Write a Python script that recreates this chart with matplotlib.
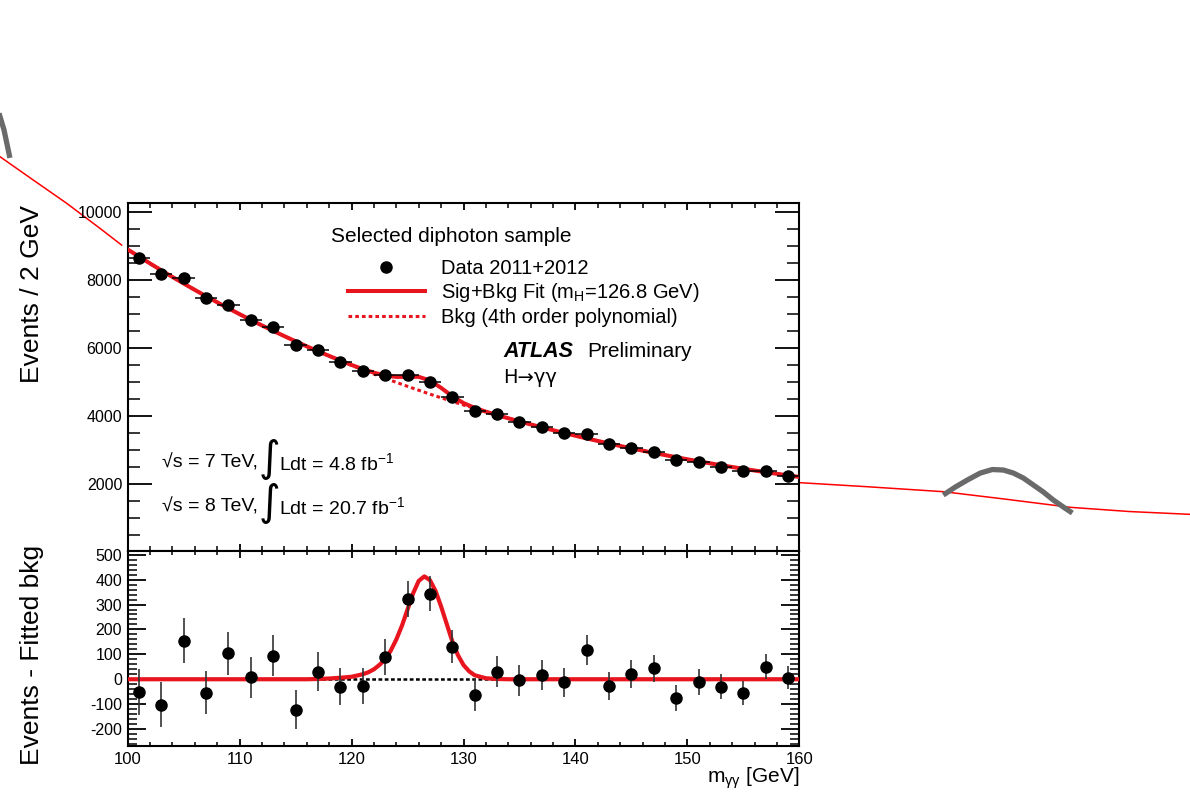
import numpy as np
import matplotlib
matplotlib.use('Agg')
import matplotlib.pyplot as plt
from matplotlib.lines import Line2D
from matplotlib.ticker import MultipleLocator

plt.rcParams['font.family'] = ['Liberation Sans', 'DejaVu Sans']
plt.rcParams['mathtext.fontset'] = 'custom'
plt.rcParams['mathtext.rm'] = 'Liberation Sans'
plt.rcParams['mathtext.it'] = 'Liberation Sans:italic'
plt.rcParams['axes.unicode_minus'] = False

# data points (bin centres, 2 GeV bins)
m_gg = np.arange(101, 160, 2)
events = [8632, 8171, 8045, 7458, 7261, 6821, 6607, 6078, 5932, 5585,
          5333, 5198, 5216, 4992, 4552, 4159, 4062, 3836, 3690, 3495,
          3466, 3173, 3055, 2947, 2712, 2653, 2515, 2389, 2389, 2251]
events_err = [93, 90, 90, 86, 85, 83, 81, 78, 77, 75,
              73, 72, 72, 71, 67, 64, 64, 62, 61, 59,
              59, 56, 55, 54, 52, 52, 50, 49, 49, 47]
resid = [-51, -103, 154, -54, 104, 8, 95, -123, 31, -30,
         -26, 91, 321, 343, 131, -63, 31, -4, 18, -12,
         118, -26, 21, 44, -74, -10, -30, -56, 51, 6]

# background fit curve, 1 GeV steps
bkg_x = np.arange(100, 161, 1)
bkg_y = [8890, 8685, 8480, 8280, 8084, 7892, 7704, 7520, 7340, 7164,
         6992, 6824, 6661, 6502, 6347, 6196, 6048, 5904, 5764, 5626,
         5492, 5362, 5235, 5112, 4991, 4874, 4759, 4647, 4538, 4431,
         4327, 4226, 4127, 4031, 3937, 3846, 3757, 3671, 3587, 3505,
         3425, 3347, 3271, 3197, 3125, 3055, 2987, 2921, 2857, 2794,
         2733, 2674, 2617, 2561, 2507, 2455, 2404, 2355, 2307, 2261, 2216]

# signal part of the fit (events above background)
sig_x = [100, 116, 117, 118, 119, 120, 121, 121.5, 122, 122.5, 123, 123.5,
         124, 124.5, 125, 125.5, 126, 126.5, 127, 127.5, 128, 128.5, 129,
         129.5, 130, 130.5, 131, 132, 133, 134, 160]
sig_y = [0, 0, 1, 3, 6, 10, 20, 28, 40, 58, 80, 115,
         160, 215, 280, 345, 395, 413, 398, 355, 292, 222, 152,
         97, 57, 32, 16, 4, 1, 0, 0]

# hand drawn extrapolation and bumps outside the frame
extrap_left_x = [88.59, 91.56, 94.55, 97.52, 99.46]
extrap_left_y = [11614, 10930, 10246, 9512, 9020]
extrap_right_x = [160.1, 166.0, 172.9, 178.5, 184.2, 189.5, 194.9]
extrap_right_y = [2046, 1930, 1782, 1560, 1324, 1200, 1118]
bump_left_x = [88.41, 88.95, 89.48]
bump_left_y = [12990, 12400, 11578]
bump_right_x = [172.86, 173.94, 175.01, 176.17, 177.24, 178.23, 179.12,
                180.01, 180.91, 181.80, 182.69, 183.59, 184.39]
bump_right_y = [1685, 1920, 2125, 2330, 2433, 2418, 2330,
                2184, 1978, 1773, 1538, 1332, 1157]

# luminosity labels
lumi_energy = ['\u221as = 7 TeV,', '\u221as = 8 TeV,']
lumi_int = [r'Ldt = 4.8 fb$^{\mathregular{-1}}$', r'Ldt = 20.7 fb$^{\mathregular{-1}}$']
lumi_y = [0.252, 0.126]

red = '#e8141e'

# sig+bkg at the integer points of the background curve
sig_int = np.zeros(len(bkg_x))
for xs, ys in zip(sig_x, sig_y):
    if float(xs).is_integer():
        sig_int[int(xs) - 100] = ys
sigbkg_y = np.array(bkg_y) + sig_int

fig = plt.figure(figsize=(11.9, 7.97), dpi=100)
ax1 = fig.add_axes([0.1073, 0.309, 0.5644, 0.4363])
ax2 = fig.add_axes([0.1073, 0.064, 0.5644, 0.245])

# --- painel de cima ---
ax1.plot(bkg_x, bkg_y, color=red, lw=2.2, ls=(0, (1.2, 1.0)), zorder=2)
ax1.plot(bkg_x, sigbkg_y, color=red, lw=2.9, zorder=3)
ax1.errorbar(m_gg, events, xerr=1, yerr=events_err, fmt='o', color='black',
             ms=8, elinewidth=1.1, capsize=0, zorder=4)

ax1.plot(extrap_left_x, extrap_left_y, color='red', lw=1.1, clip_on=False, zorder=1)
ax1.plot(extrap_right_x, extrap_right_y, color='red', lw=1.1, clip_on=False, zorder=1)
ax1.plot(bump_left_x, bump_left_y, color='#6a6a6a', lw=3.8, clip_on=False,
         solid_capstyle='butt', zorder=5)
ax1.plot(bump_right_x, bump_right_y, color='#6a6a6a', lw=3.8, clip_on=False,
         solid_capstyle='butt', solid_joinstyle='round', zorder=5)

ax1.set_xlim(100, 160)
ax1.set_ylim(50, 10255)
ax1.yaxis.set_minor_locator(MultipleLocator(500))
ax1.xaxis.set_major_locator(MultipleLocator(10))
ax1.xaxis.set_minor_locator(MultipleLocator(2))
ax1.set_yticks([2000, 4000, 6000, 8000, 10000])
ax1.tick_params(axis='x', which='both', direction='in', top=True, labelbottom=False)
ax1.tick_params(axis='x', which='major', length=5, width=1.3)
ax1.tick_params(axis='x', which='minor', length=3.5, width=1.1)
ax1.tick_params(axis='y', which='both', direction='in', right=True, labelsize=11.5, pad=4)
ax1.tick_params(axis='y', which='major', length=17, width=1.3)
ax1.tick_params(axis='y', which='minor', length=8.5, width=1.1)

handles = [Line2D([], [], marker='o', color='black', ls='none', ms=8),
           Line2D([], [], color=red, lw=2.9),
           Line2D([], [], color=red, lw=2.2, ls=(0, (1.2, 1.0)))]
labels = ['Data 2011+2012',
          r'Sig+Bkg Fit (m$_{\mathregular{H}}$=126.8 GeV)',
          'Bkg (4th order polynomial)']
ax1.legend(handles, labels, loc='upper left', bbox_to_anchor=(0.328, 0.84),
           frameon=False, fontsize=14.5, handlelength=3.8, handletextpad=0.8,
           labelspacing=0.18, borderpad=0, borderaxespad=0)
ax1.text(0.303, 0.905, 'Selected diphoton sample', transform=ax1.transAxes,
         fontsize=15, va='center', ha='left')
ax1.text(0.559, 0.574, 'ATLAS', transform=ax1.transAxes, fontsize=15.5,
         fontweight='bold', fontstyle='italic', va='center', ha='left')
ax1.text(0.684, 0.574, 'Preliminary', transform=ax1.transAxes, fontsize=15,
         va='center', ha='left')
ax1.text(0.559, 0.497, 'H\u2192\u03b3\u03b3', transform=ax1.transAxes, fontsize=14,
         family=['DejaVu Sans'], va='center', ha='left')

for yy, e_txt, l_txt in zip(lumi_y, lumi_energy, lumi_int):
    ax1.text(0.051, yy, e_txt, transform=ax1.transAxes,
             fontsize=14, va='center', ha='left')
    # sinal de integral grande, como no ROOT
    ax1.text(0.211, yy + 0.012, '\u222b', transform=ax1.transAxes, fontsize=30,
             family=['DejaVu Sans'], va='center', ha='center')
    ax1.text(0.226, yy, l_txt, transform=ax1.transAxes,
             fontsize=14, va='center', ha='left')

# --- painel de baixo ---
ax2.plot([100, 160], [0, 0], color='black', lw=1.8, ls=(0, (1.5, 1.0)), zorder=2)
ax2.plot(sig_x, sig_y, color=red, lw=3.0, zorder=3)
ax2.errorbar(m_gg, resid, yerr=events_err, fmt='o', color='black', ecolor='#333333',
             ms=8, elinewidth=1.2, capsize=0, zorder=4)
ax2.set_xlim(100, 160)
ax2.xaxis.set_major_locator(MultipleLocator(10))
ax2.xaxis.set_minor_locator(MultipleLocator(2))
ax2.yaxis.set_minor_locator(MultipleLocator(20))
ax2.set_yticks([-200, -100, 0, 100, 200, 300, 400, 500])
ax2.set_ylim(-268, 516)
ax2.tick_params(axis='x', which='both', direction='in', top=True, labelsize=12, pad=4)
ax2.tick_params(axis='x', which='major', length=5, width=1.3)
ax2.tick_params(axis='x', which='minor', length=3, width=1.1)
ax2.tick_params(axis='y', which='both', direction='in', right=True, labelsize=11.5, pad=4)
ax2.tick_params(axis='y', which='major', length=13, width=1.3)
ax2.tick_params(axis='y', which='minor', length=6.5, width=1.1)

for ax in (ax1, ax2):
    for sp in ax.spines.values():
        sp.set_linewidth(1.5)

fig.text(0.027, 0.7428, 'Events / 2 GeV', rotation=90, fontsize=19,
         va='top', ha='center')
fig.text(0.027, 0.178, 'Events - Fitted bkg', rotation=90, fontsize=19,
         va='center', ha='center')
fig.text(0.6717, 0.024, r'm$_{\mathregular{\gamma\gamma}}$ [GeV]', fontsize=15,
         va='center', ha='right')

fig.savefig('out.png', dpi=100)
plt.close()
